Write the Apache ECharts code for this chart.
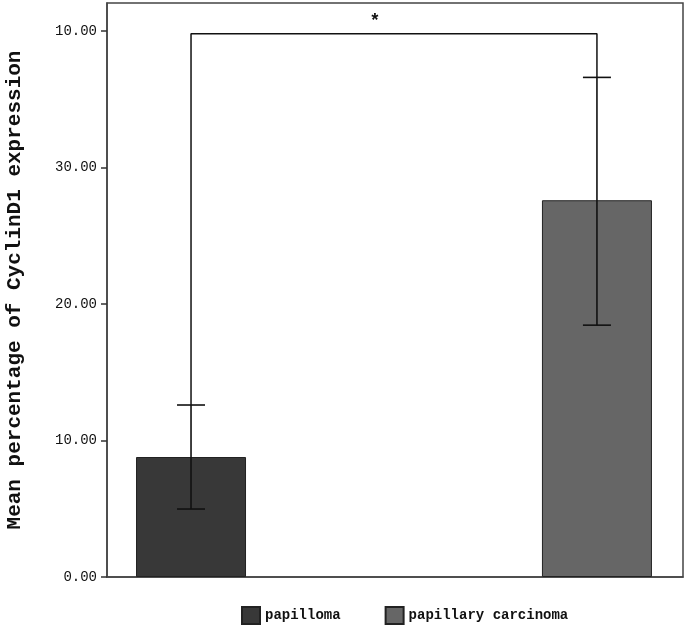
<!DOCTYPE html>
<html>
<head>
<meta charset="utf-8">
<script src="https://cdn.jsdelivr.net/npm/echarts@6/dist/echarts.min.js"></script>
<style>html,body{margin:0;padding:0;background:#fff}#c{width:685px;height:626px}</style>
</head>
<body>
<div id="c"></div>
<script>
const categories = ['papilloma', 'papillary carcinoma'];
const meanValues = [8.79, 27.6];
const errLow = [4.98, 18.45];
const errHigh = [12.6, 36.6];
const tickValues = [0, 10, 20, 30, 40];
const tickLabels = ['0.00', '10.00', '20.00', '30.00', '10.00'];
const bracketY = 39.8;
const starText = '*';
const starPos = [0.453, 40.7];
const barColors = ['#383838', '#666666'];

const chart = echarts.init(document.getElementById('c'));
const mono = 'Liberation Mono';

const barSeries = categories.map((name, i) => ({
  name: name,
  type: 'bar',
  barWidth: 110,
  barGap: '-100%',
  itemStyle: { color: barColors[i], borderColor: '#222', borderWidth: 1 },
  data: [[i, meanValues[i]]],
  z: 2
}));

const errSeries = {
  type: 'custom',
  z: 5,
  data: categories.map((c, i) => [i, errLow[i], errHigh[i]]),
  renderItem: function (params, api) {
    const lo = api.coord([api.value(0), api.value(1)]);
    const hi = api.coord([api.value(0), api.value(2)]);
    const hw = 14;
    const st = { stroke: '#111', lineWidth: 1.6 };
    return { type: 'group', children: [
      { type: 'line', shape: { x1: lo[0], y1: lo[1], x2: hi[0], y2: hi[1] }, style: st },
      { type: 'line', shape: { x1: lo[0] - hw, y1: lo[1], x2: lo[0] + hw, y2: lo[1] }, style: st },
      { type: 'line', shape: { x1: hi[0] - hw, y1: hi[1], x2: hi[0] + hw, y2: hi[1] }, style: st }
    ]};
  }
};

const bracketSeries = {
  type: 'line',
  symbol: 'none',
  silent: true,
  z: 4,
  lineStyle: { color: '#111', width: 1.5 },
  data: [[0, errHigh[0]], [0, bracketY], [1, bracketY], [1, errHigh[1]]]
};

const starSeries = {
  type: 'custom',
  z: 6,
  data: [starPos],
  renderItem: function (params, api) {
    const p = api.coord([api.value(0), api.value(1)]);
    return { type: 'text', style: { text: starText, x: p[0], y: p[1], align: 'center', verticalAlign: 'middle', font: 'bold 18px ' + mono, fill: '#111' } };
  }
};

chart.setOption({
  animation: false,
  backgroundColor: '#fff',
  grid: { left: 107, right: 2, top: 3, bottom: 49, show: true, borderColor: '#444', borderWidth: 1.5, outerBoundsMode: 'none', containLabel: false },
  legend: {
    data: categories,
    left: 241, top: 606, padding: 0,
    itemWidth: 18, itemHeight: 17, itemGap: 44,
    textStyle: { fontFamily: mono, fontWeight: 'bold', fontSize: 14, color: '#111' },
    icon: 'rect'
  },
  xAxis: {
    type: 'value', min: -0.207, max: 1.212,
    axisLine: { show: true, onZero: false, lineStyle: { color: '#444', width: 1.5 } },
    axisTick: { show: false }, axisLabel: { show: false }, splitLine: { show: false }
  },
  yAxis: {
    type: 'value', min: 0, max: 42.05,
    name: 'Mean percentage of CyclinD1 expression',
    nameLocation: 'middle', nameGap: 82,
    nameTextStyle: { fontFamily: mono, fontWeight: 'bold', fontSize: 21, color: '#111' },
    axisLine: { show: true, onZero: false, lineStyle: { color: '#444', width: 1.5 } },
    axisTick: { show: true, length: 6, customValues: tickValues, lineStyle: { color: '#333', width: 1.5 } },
    axisLabel: {
      customValues: tickValues, margin: 10,
      fontFamily: mono, fontSize: 14, color: '#111',
      formatter: function (v) { const k = tickValues.indexOf(v); return k >= 0 ? tickLabels[k] : ''; }
    },
    splitLine: { show: false }
  },
  series: [...barSeries, errSeries, bracketSeries, starSeries]
});
</script>
</body>
</html>
